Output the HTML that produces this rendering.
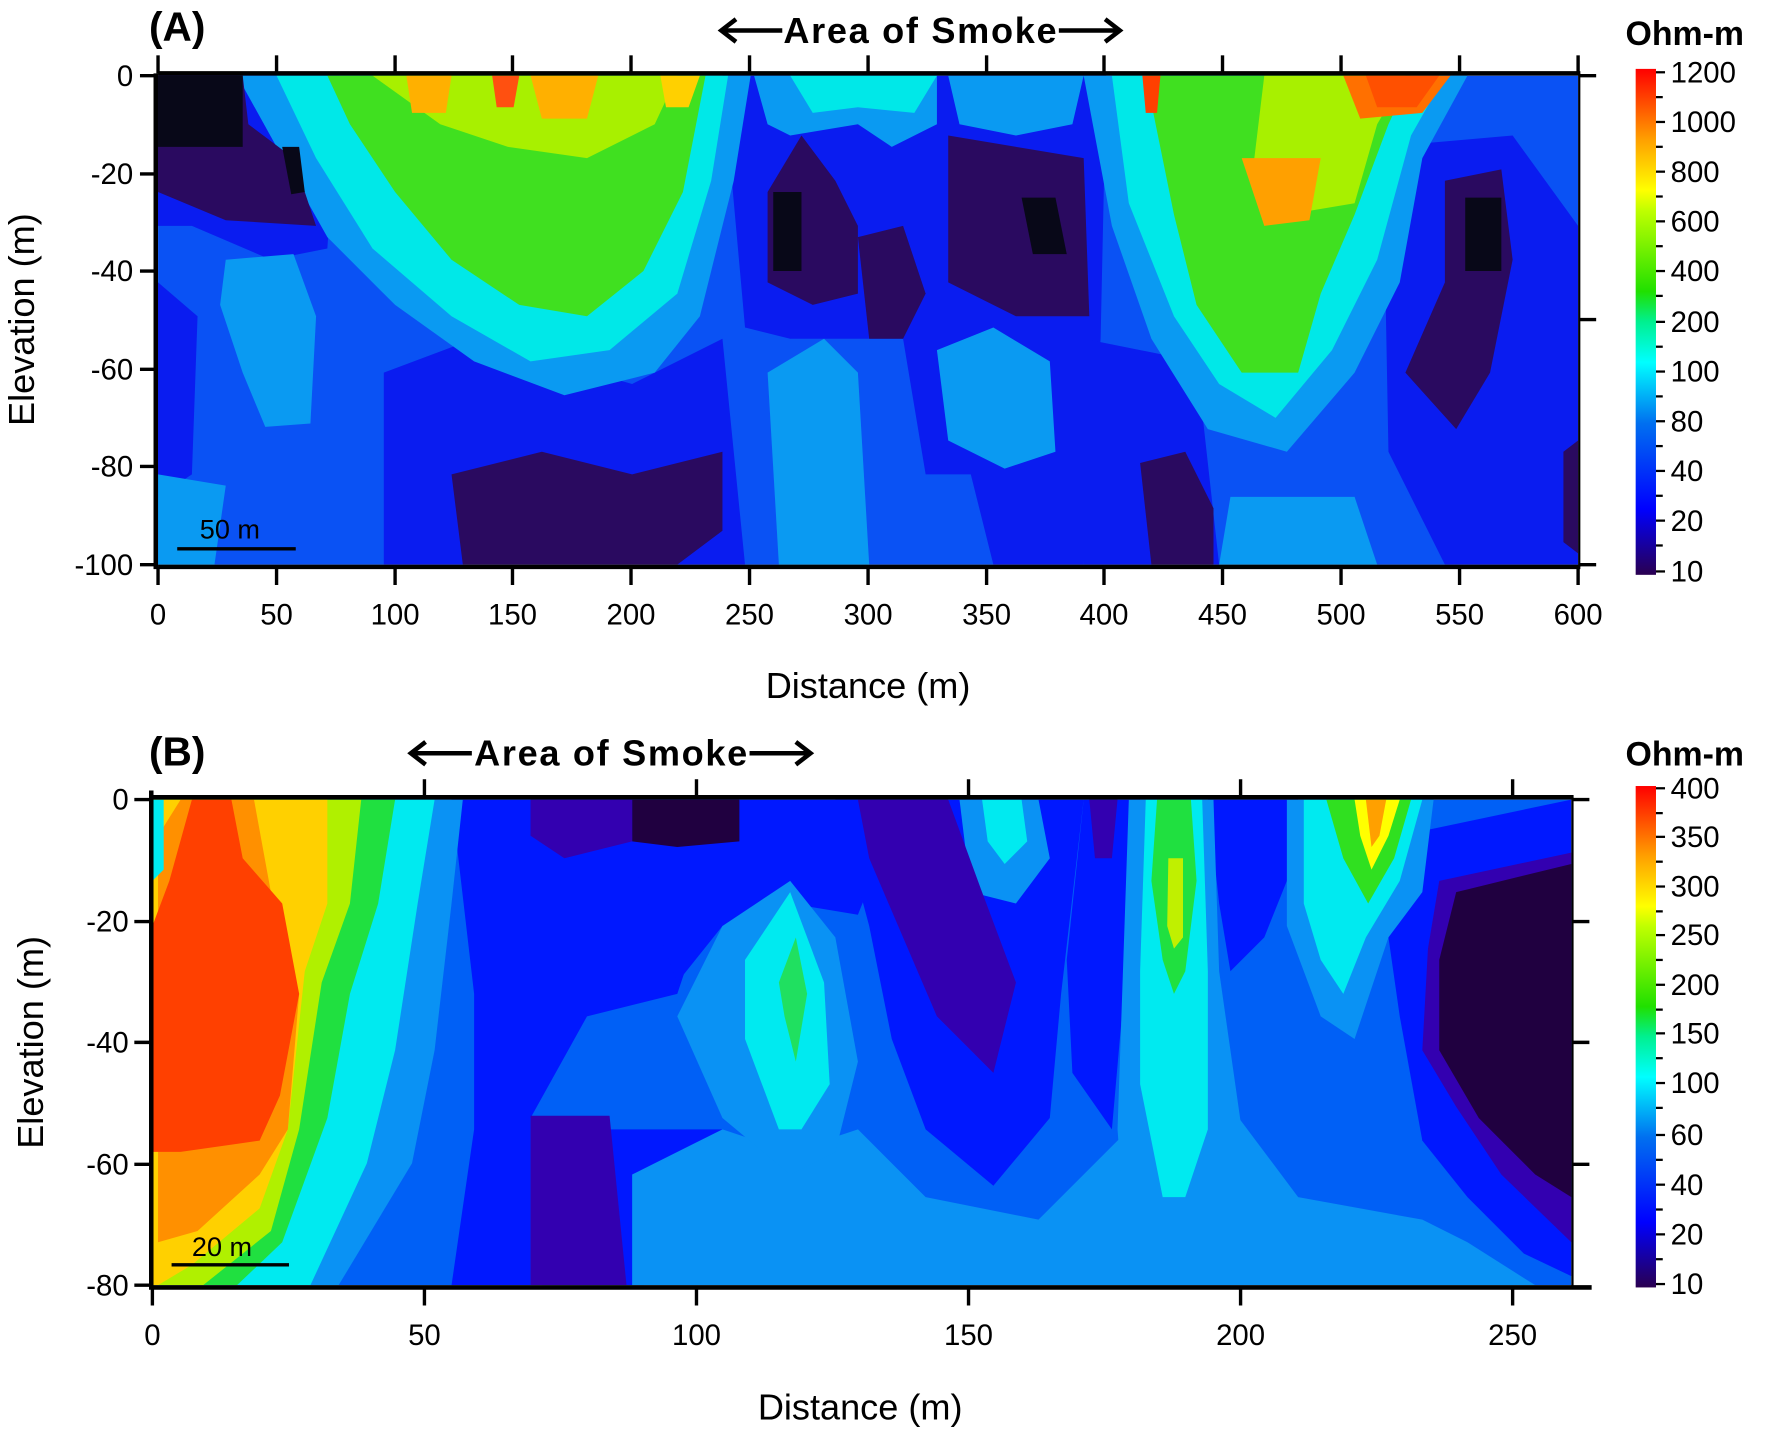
<!DOCTYPE html>
<html><head><meta charset="utf-8"><style>
html,body{margin:0;padding:0;background:#fff}
svg{display:block}
text{font-family:"Liberation Sans",sans-serif}
</style></head><body>
<svg width="1770" height="1432" viewBox="0 0 1568 1268" preserveAspectRatio="none" xmlns="http://www.w3.org/2000/svg">
<defs>
<linearGradient id="cbA" x1="0" y1="1" x2="0" y2="0">
<stop offset="0" stop-color="#2a0050"/><stop offset="0.13" stop-color="#0000ff"/><stop offset="0.3" stop-color="#0070f0"/><stop offset="0.42" stop-color="#00ffff"/><stop offset="0.5" stop-color="#00f090"/><stop offset="0.56" stop-color="#20e000"/><stop offset="0.72" stop-color="#c0ff00"/><stop offset="0.76" stop-color="#ffff00"/><stop offset="0.86" stop-color="#ffa000"/><stop offset="1" stop-color="#ff0000"/>
</linearGradient>
<clipPath id="cA"><rect x="140" y="67" width="1258" height="433"/></clipPath>
<clipPath id="cB"><rect x="135" y="708" width="1257" height="430"/></clipPath>
</defs>

<!-- ============ PANEL A ============ -->
<g clip-path="url(#cA)">
<rect x="140" y="67" width="1258" height="433" fill="#0a52f4"/>
<polygon points="340,330 420,300 560,340 640,300 660,500 340,500" fill="#0a1cf0"/>
<polygon points="640,67 980,67 975,300 960,500 880,500 860,420 820,420 800,300 760,300 700,300 660,290" fill="#0a1cf0"/>
<polygon points="960,300 1060,320 1080,500 960,500" fill="#0a1cf0"/>
<polygon points="1225,130 1340,120 1398,200 1398,500 1280,500 1230,400" fill="#0a1cf0"/>
<polygon points="140,67 300,67 290,220 240,230 170,200 140,200" fill="#0a1cf0"/>
<polygon points="140,250 175,280 170,420 140,440" fill="#0a1cf0"/>
<polygon points="210,67 665,67 650,160 620,280 580,330 500,350 420,320 350,270 290,210 245,130" fill="#0a9af2"/>
<polygon points="960,67 1300,67 1260,140 1240,250 1200,330 1140,400 1070,380 1020,300 985,200" fill="#0a9af2"/>
<polygon points="668,67 830,67 830,110 790,130 760,110 700,120 680,110" fill="#0a9af2"/>
<polygon points="840,67 960,67 950,110 900,120 850,110" fill="#0a9af2"/>
<polygon points="245,67 645,67 630,160 600,260 540,310 470,320 400,280 330,220 280,140" fill="#00e8e8"/>
<polygon points="985,67 1280,67 1250,120 1220,230 1180,310 1130,370 1080,340 1040,280 1000,180" fill="#00e8e8"/>
<polygon points="700,67 830,67 810,100 760,95 720,100" fill="#00e8e8"/>
<polygon points="290,67 625,67 605,170 570,240 520,280 460,270 400,230 350,170 310,110" fill="#40e020"/>
<polygon points="1015,67 1250,67 1230,110 1200,190 1170,260 1150,330 1100,330 1060,270 1040,190" fill="#40e020"/>
<polygon points="330,67 600,67 580,110 520,140 450,130 390,110" fill="#a8f000"/>
<polygon points="1120,67 1245,67 1220,110 1200,180 1140,190 1110,150" fill="#a8f000"/>
<polygon points="360,67 400,67 395,100 365,100" fill="#ffb000"/>
<polygon points="470,67 530,67 520,105 480,105" fill="#ffb000"/>
<polygon points="585,67 620,67 610,95 590,95" fill="#ffd000"/>
<polygon points="436,67 460,67 455,95 440,95" fill="#ff5010"/>
<polygon points="1190,67 1285,67 1260,100 1205,105" fill="#ff7000"/>
<polygon points="1210,67 1275,67 1255,95 1220,95" fill="#ff5000"/>
<polygon points="1100,140 1170,140 1160,195 1120,200" fill="#ffa000"/>
<polygon points="1012,67 1028,67 1025,100 1015,100" fill="#ff4000"/>
<polygon points="200,230 260,225 280,280 275,375 235,378 215,330 195,270" fill="#0a9af2"/>
<polygon points="680,330 730,300 760,330 770,500 690,500" fill="#0a9af2"/>
<polygon points="830,310 880,290 930,320 935,400 890,415 840,390" fill="#0a9af2"/>
<polygon points="140,420 200,430 190,500 140,500" fill="#0a9af2"/>
<polygon points="1090,440 1200,440 1220,500 1080,500" fill="#0a9af2"/>
<polygon points="140,67 215,67 220,110 260,140 280,200 200,195 140,170" fill="#2a0a60"/>
<polygon points="140,67 215,67 215,130 140,130" fill="#080818"/>
<polygon points="250,130 265,130 270,170 258,172" fill="#080818"/>
<polygon points="680,170 710,120 740,160 760,200 760,260 720,270 680,250" fill="#2a0a60"/>
<polygon points="685,170 710,170 710,240 685,240" fill="#080818"/>
<polygon points="760,210 800,200 820,260 800,300 770,300" fill="#2a0a60"/>
<polygon points="840,120 960,140 965,280 900,280 840,250" fill="#2a0a60"/>
<polygon points="905,175 935,175 945,225 915,225" fill="#080818"/>
<polygon points="400,420 480,400 560,420 640,400 640,470 600,500 410,500" fill="#2a0a60"/>
<polygon points="1010,410 1050,400 1075,450 1075,500 1020,500" fill="#2a0a60"/>
<polygon points="1280,160 1330,150 1340,230 1320,330 1290,380 1245,330 1280,250" fill="#2a0a60"/>
<polygon points="1298,175 1330,175 1330,240 1298,240" fill="#080818"/>
<polygon points="1385,400 1398,390 1398,490 1385,480" fill="#2a0a60"/>
</g>
<g stroke="#000" stroke-width="4" fill="none">
<line x1="140" y1="65" x2="1400" y2="65"/>
<line x1="140" y1="502" x2="1400" y2="502"/>
<line x1="138" y1="65" x2="138" y2="504"/>
<line x1="1399" y1="65" x2="1399" y2="502" stroke-width="2"/>
</g>
<g stroke="#000" stroke-width="3">
<line x1="140" y1="49" x2="140" y2="65"/><line x1="245" y1="49" x2="245" y2="65"/><line x1="350" y1="49" x2="350" y2="65"/><line x1="454" y1="49" x2="454" y2="65"/><line x1="559" y1="49" x2="559" y2="65"/><line x1="664" y1="49" x2="664" y2="65"/><line x1="769" y1="49" x2="769" y2="65"/><line x1="874" y1="49" x2="874" y2="65"/><line x1="978" y1="49" x2="978" y2="65"/><line x1="1083" y1="49" x2="1083" y2="65"/><line x1="1188" y1="49" x2="1188" y2="65"/><line x1="1293" y1="49" x2="1293" y2="65"/><line x1="1398" y1="49" x2="1398" y2="65"/>
<line x1="140" y1="502" x2="140" y2="518"/><line x1="245" y1="502" x2="245" y2="518"/><line x1="350" y1="502" x2="350" y2="518"/><line x1="454" y1="502" x2="454" y2="518"/><line x1="559" y1="502" x2="559" y2="518"/><line x1="664" y1="502" x2="664" y2="518"/><line x1="769" y1="502" x2="769" y2="518"/><line x1="874" y1="502" x2="874" y2="518"/><line x1="978" y1="502" x2="978" y2="518"/><line x1="1083" y1="502" x2="1083" y2="518"/><line x1="1188" y1="502" x2="1188" y2="518"/><line x1="1293" y1="502" x2="1293" y2="518"/><line x1="1398" y1="502" x2="1398" y2="518"/>
<line x1="124" y1="67" x2="138" y2="67"/><line x1="124" y1="154" x2="138" y2="154"/><line x1="124" y1="240" x2="138" y2="240"/><line x1="124" y1="327" x2="138" y2="327"/><line x1="124" y1="413" x2="138" y2="413"/><line x1="124" y1="500" x2="138" y2="500"/>
<line x1="1399" y1="67" x2="1414" y2="67"/><line x1="1399" y1="283" x2="1414" y2="283"/><line x1="1399" y1="500" x2="1414" y2="500"/>
<line x1="157" y1="486" x2="262" y2="486"/>
</g>
<text x="177" y="477" font-size="24">50 m</text>
<g font-size="26" text-anchor="end">
<text x="118" y="76">0</text><text x="118" y="163">-20</text><text x="118" y="249">-40</text><text x="118" y="336">-60</text><text x="118" y="422">-80</text><text x="118" y="509">-100</text>
</g>
<g font-size="26" text-anchor="middle">
<text x="140" y="553">0</text><text x="245" y="553">50</text><text x="350" y="553">100</text><text x="454" y="553">150</text><text x="559" y="553">200</text><text x="664" y="553">250</text><text x="769" y="553">300</text><text x="874" y="553">350</text><text x="978" y="553">400</text><text x="1083" y="553">450</text><text x="1188" y="553">500</text><text x="1293" y="553">550</text><text x="1398" y="553">600</text>
</g>
<text x="769" y="618" font-size="32" text-anchor="middle">Distance (m)</text>
<text transform="translate(30,283) rotate(-90)" font-size="32" text-anchor="middle">Elevation (m)</text>
<text x="132" y="36" font-size="36" font-weight="bold">(A)</text>
<text x="815" y="38" font-size="32" font-weight="bold" text-anchor="middle" textLength="242">Area of Smoke</text>
<g stroke="#000" stroke-width="4" fill="none">
<line x1="640" y1="27" x2="693" y2="27"/><polyline points="652,17 639,27 652,37"/>
<line x1="938" y1="27" x2="991" y2="27"/><polyline points="979,17 992,27 979,37"/>
</g>
<text x="1440" y="40" font-size="30" font-weight="bold">Ohm-m</text>
<rect x="1449" y="61" width="18" height="448" fill="url(#cbA)"/>
<g stroke="#000" stroke-width="2">
<line x1="1467" y1="64" x2="1475" y2="64"/><line x1="1467" y1="86" x2="1473" y2="86"/><line x1="1467" y1="108" x2="1475" y2="108"/><line x1="1467" y1="130" x2="1473" y2="130"/><line x1="1467" y1="152" x2="1475" y2="152"/><line x1="1467" y1="174" x2="1473" y2="174"/><line x1="1467" y1="196" x2="1475" y2="196"/><line x1="1467" y1="218" x2="1473" y2="218"/><line x1="1467" y1="240" x2="1475" y2="240"/><line x1="1467" y1="262" x2="1473" y2="262"/><line x1="1467" y1="285" x2="1475" y2="285"/><line x1="1467" y1="307" x2="1473" y2="307"/><line x1="1467" y1="329" x2="1475" y2="329"/><line x1="1467" y1="351" x2="1473" y2="351"/><line x1="1467" y1="373" x2="1475" y2="373"/><line x1="1467" y1="395" x2="1473" y2="395"/><line x1="1467" y1="417" x2="1475" y2="417"/><line x1="1467" y1="439" x2="1473" y2="439"/><line x1="1467" y1="461" x2="1475" y2="461"/><line x1="1467" y1="483" x2="1473" y2="483"/><line x1="1467" y1="506" x2="1475" y2="506"/>
</g>
<g font-size="26">
<text x="1480" y="73">1200</text><text x="1480" y="117">1000</text><text x="1480" y="161">800</text><text x="1480" y="205">600</text><text x="1480" y="249">400</text><text x="1480" y="294">200</text><text x="1480" y="338">100</text><text x="1480" y="382">80</text><text x="1480" y="426">40</text><text x="1480" y="470">20</text><text x="1480" y="515">10</text>
</g>

<!-- ============ PANEL B ============ -->
<g clip-path="url(#cB)">
<rect x="135" y="708" width="1257" height="430" fill="#0060f6"/>
<polygon points="400,708 560,708 560,760 640,760 600,880 520,900 470,990 470,1138 400,1138 420,1000 420,880" fill="#0018ff"/>
<polygon points="540,708 760,708 780,760 760,810 700,800 640,820 600,870" fill="#0018ff"/>
<polygon points="740,708 960,708 940,880 930,990 880,1050 820,1000 790,920 770,820" fill="#0018ff"/>
<polygon points="960,708 1010,708 1000,830 985,1000 950,950 945,850" fill="#0018ff"/>
<polygon points="1070,708 1150,708 1140,780 1120,830 1090,860 1080,800" fill="#0018ff"/>
<polygon points="1240,740 1392,708 1392,1130 1350,1110 1300,1060 1260,1010 1240,900 1230,830" fill="#0018ff"/>
<polygon points="520,1000 640,1000 620,1080 570,1138 480,1138" fill="#0018ff"/>
<polygon points="560,1040 640,1000 700,1020 760,1000 820,1060 920,1080 1000,1000 1090,980 1150,1060 1260,1080 1300,1100 1360,1138 560,1138" fill="#0a92f4"/>
<polygon points="640,820 700,780 740,830 760,940 740,1020 700,1040 640,990 600,900" fill="#0a92f4"/>
<polygon points="1000,708 1075,708 1080,860 1100,1000 1090,1138 1000,1138 990,1000" fill="#0a92f4"/>
<polygon points="1140,708 1270,708 1260,790 1230,830 1200,920 1170,900 1140,820" fill="#0a92f4"/>
<polygon points="850,708 920,708 930,760 900,800 860,790" fill="#0a92f4"/>
<polygon points="660,850 700,790 730,870 735,960 710,1000 690,1000 660,920" fill="#00eaf0"/>
<polygon points="1015,708 1065,708 1070,860 1070,1000 1050,1060 1030,1060 1010,960 1010,860" fill="#00eaf0"/>
<polygon points="1155,708 1260,708 1240,780 1210,830 1190,880 1170,850 1155,800" fill="#00eaf0"/>
<polygon points="870,708 905,708 910,745 890,765 875,745" fill="#00eaf0"/>
<polygon points="690,870 705,830 715,880 705,940 695,900" fill="#20e060"/>
<polygon points="1025,708 1055,708 1060,780 1050,860 1040,880 1030,850 1020,780" fill="#20e040"/>
<polygon points="1175,708 1250,708 1235,760 1212,800 1190,760" fill="#30e020"/>
<polygon points="1035,760 1048,760 1048,830 1040,840 1034,820" fill="#c0f000"/>
<polygon points="1200,708 1240,708 1230,740 1215,770 1205,740" fill="#ffff00"/>
<polygon points="1210,708 1228,708 1222,740 1215,750" fill="#ffa000"/>
<polygon points="560,708 655,708 655,745 600,750 560,745" fill="#200040"/>
<polygon points="470,708 560,708 560,745 500,760 470,740" fill="#3300b0"/>
<polygon points="760,708 840,708 870,790 900,870 880,950 860,930 830,900 800,830 770,760" fill="#3300b0"/>
<polygon points="965,708 990,708 985,760 970,760" fill="#3300b0"/>
<polygon points="1275,780 1392,755 1392,1100 1330,1040 1290,980 1260,930 1265,840" fill="#3300b0"/>
<polygon points="1290,790 1392,765 1392,1060 1360,1040 1310,990 1275,930 1275,850" fill="#200040"/>
<polygon points="470,988 540,988 555,1138 470,1138" fill="#3300b0"/>
<polygon points="135,708 410,708 400,800 385,930 365,1030 300,1138 135,1138" fill="#0a92f4"/>
<polygon points="135,708 385,708 370,800 350,930 325,1030 275,1138 135,1138" fill="#00eaf0"/>
<polygon points="135,708 350,708 335,800 310,880 290,990 250,1100 210,1138 135,1138" fill="#20e040"/>
<polygon points="135,708 320,708 310,800 285,870 265,1000 240,1090 180,1138 135,1138" fill="#b0f000"/>
<polygon points="135,708 290,708 290,800 270,860 255,1000 230,1070 170,1120 140,1138 135,1138" fill="#ffd000"/>
<polygon points="140,740 160,708 225,708 240,790 265,880 255,1000 230,1040 175,1090 140,1100" fill="#ff9000"/>
<polygon points="150,780 170,708 205,708 215,760 250,800 265,880 248,970 230,1010 160,1020 135,1020 135,820" fill="#ff4000"/>
<polygon points="135,708 145,708 145,770 135,780" fill="#00eaf0"/>
</g>
<g stroke="#000" stroke-width="4" fill="none">
<line x1="135" y1="706" x2="1394" y2="706"/>
<line x1="135" y1="1140" x2="1410" y2="1140"/>
<line x1="134" y1="700" x2="134" y2="1142"/>
<line x1="1393" y1="706" x2="1393" y2="1140" stroke-width="2"/>
</g>
<g stroke="#000" stroke-width="3">
<line x1="376" y1="690" x2="376" y2="706"/><line x1="617" y1="690" x2="617" y2="706"/><line x1="858" y1="690" x2="858" y2="706"/><line x1="1099" y1="690" x2="1099" y2="706"/><line x1="1340" y1="690" x2="1340" y2="706"/>
<line x1="135" y1="1140" x2="135" y2="1156"/><line x1="376" y1="1140" x2="376" y2="1156"/><line x1="617" y1="1140" x2="617" y2="1156"/><line x1="858" y1="1140" x2="858" y2="1156"/><line x1="1099" y1="1140" x2="1099" y2="1156"/><line x1="1340" y1="1140" x2="1340" y2="1156"/>
<line x1="119" y1="708" x2="134" y2="708"/><line x1="119" y1="816" x2="134" y2="816"/><line x1="119" y1="923" x2="134" y2="923"/><line x1="119" y1="1031" x2="134" y2="1031"/><line x1="119" y1="1138" x2="134" y2="1138"/>
<line x1="1393" y1="708" x2="1408" y2="708"/><line x1="1393" y1="816" x2="1408" y2="816"/><line x1="1393" y1="923" x2="1408" y2="923"/><line x1="1393" y1="1031" x2="1408" y2="1031"/>
<line x1="152" y1="1120" x2="256" y2="1120"/>
</g>
<text x="170" y="1112" font-size="24">20 m</text>
<g font-size="26" text-anchor="end">
<text x="114" y="717">0</text><text x="114" y="825">-20</text><text x="114" y="932">-40</text><text x="114" y="1040">-60</text><text x="114" y="1147">-80</text>
</g>
<g font-size="26" text-anchor="middle">
<text x="135" y="1191">0</text><text x="376" y="1191">50</text><text x="617" y="1191">100</text><text x="858" y="1191">150</text><text x="1099" y="1191">200</text><text x="1340" y="1191">250</text>
</g>
<text x="762" y="1257" font-size="32" text-anchor="middle">Distance (m)</text>
<text transform="translate(38,923) rotate(-90)" font-size="32" text-anchor="middle">Elevation (m)</text>
<text x="132" y="678" font-size="36" font-weight="bold">(B)</text>
<text x="541" y="678" font-size="32" font-weight="bold" text-anchor="middle" textLength="242">Area of Smoke</text>
<g stroke="#000" stroke-width="4" fill="none">
<line x1="365" y1="667" x2="418" y2="667"/><polyline points="377,657 364,667 377,677"/>
<line x1="664" y1="667" x2="717" y2="667"/><polyline points="705,657 718,667 705,677"/>
</g>
<text x="1440" y="678" font-size="30" font-weight="bold">Ohm-m</text>
<rect x="1449" y="696" width="18" height="444" fill="url(#cbA)"/>
<g stroke="#000" stroke-width="2">
<line x1="1467" y1="698" x2="1475" y2="698"/><line x1="1467" y1="720" x2="1473" y2="720"/><line x1="1467" y1="741" x2="1475" y2="741"/><line x1="1467" y1="763" x2="1473" y2="763"/><line x1="1467" y1="785" x2="1475" y2="785"/><line x1="1467" y1="807" x2="1473" y2="807"/><line x1="1467" y1="828" x2="1475" y2="828"/><line x1="1467" y1="850" x2="1473" y2="850"/><line x1="1467" y1="872" x2="1475" y2="872"/><line x1="1467" y1="894" x2="1473" y2="894"/><line x1="1467" y1="915" x2="1475" y2="915"/><line x1="1467" y1="937" x2="1473" y2="937"/><line x1="1467" y1="959" x2="1475" y2="959"/><line x1="1467" y1="981" x2="1473" y2="981"/><line x1="1467" y1="1005" x2="1475" y2="1005"/><line x1="1467" y1="1027" x2="1473" y2="1027"/><line x1="1467" y1="1049" x2="1475" y2="1049"/><line x1="1467" y1="1071" x2="1473" y2="1071"/><line x1="1467" y1="1093" x2="1475" y2="1093"/><line x1="1467" y1="1115" x2="1473" y2="1115"/><line x1="1467" y1="1137" x2="1475" y2="1137"/>
</g>
<g font-size="26">
<text x="1480" y="707">400</text><text x="1480" y="750">350</text><text x="1480" y="794">300</text><text x="1480" y="837">250</text><text x="1480" y="881">200</text><text x="1480" y="924">150</text><text x="1480" y="968">100</text><text x="1480" y="1014">60</text><text x="1480" y="1058">40</text><text x="1480" y="1102">20</text><text x="1480" y="1146">10</text>
</g>
</svg>
</body></html>
